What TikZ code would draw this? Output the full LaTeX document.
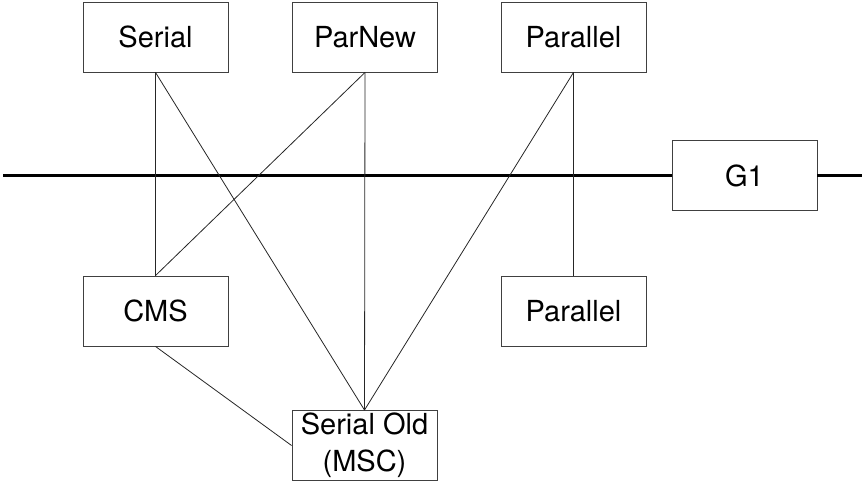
\documentclass[tikz,border=0pt]{standalone}
\usepackage{fontspec}
\setmainfont{TeX Gyre Heros}

\begin{document}
\begin{tikzpicture}[x=1pt, y=-1pt,
    box/.style={draw=black!75, line width=0.9pt, minimum width=145pt, minimum height=70pt,
                inner ysep=0pt, align=center, font=\fontsize{29}{37}\selectfont},
    link/.style={draw=black!85, line width=0.8pt}]
    % 画布大小
    \useasboundingbox (0,0) rectangle (865,482);

    % 新生代收集器
    \node[box] (serial)   at (155.5, 37) {Serial};
    \node[box] (parnew)   at (365, 37)   {ParNew};
    \node[box] (parallel) at (573.5, 37) {Parallel};

    % G1 和分隔线
    \node[box] (g1) at (744.5, 175.5) {G1};
    \coordinate (lineL) at (3, 175.5);
    \coordinate (lineR) at (862, 175.5);
    \draw[line width=2.5pt] (lineL) -- (g1.west);
    \draw[line width=2.5pt] (g1.east) -- (lineR);

    % 老年代收集器
    \node[box] (cms)       at (155.5, 311)   {CMS};
    \node[box] (parold)    at (573.5, 311)   {Parallel};
    \node[box] (serialold) at (364.5, 445.5) {Serial Old\\(MSC)};

    % 搭配关系
    \draw[link] (serial.south) -- (cms.north);
    \draw[link] (serial.south) -- (serialold.north);
    \draw[link] (parnew.south) -- (cms.north);
    \draw[link] (parnew.south) -- (serialold.north);
    \draw[link] (parallel.south) -- (serialold.north);
    \draw[link] (parallel.south) -- (parold.north);
    \draw[link] (cms.south) -- (serialold.west);
\end{tikzpicture}
\end{document}
